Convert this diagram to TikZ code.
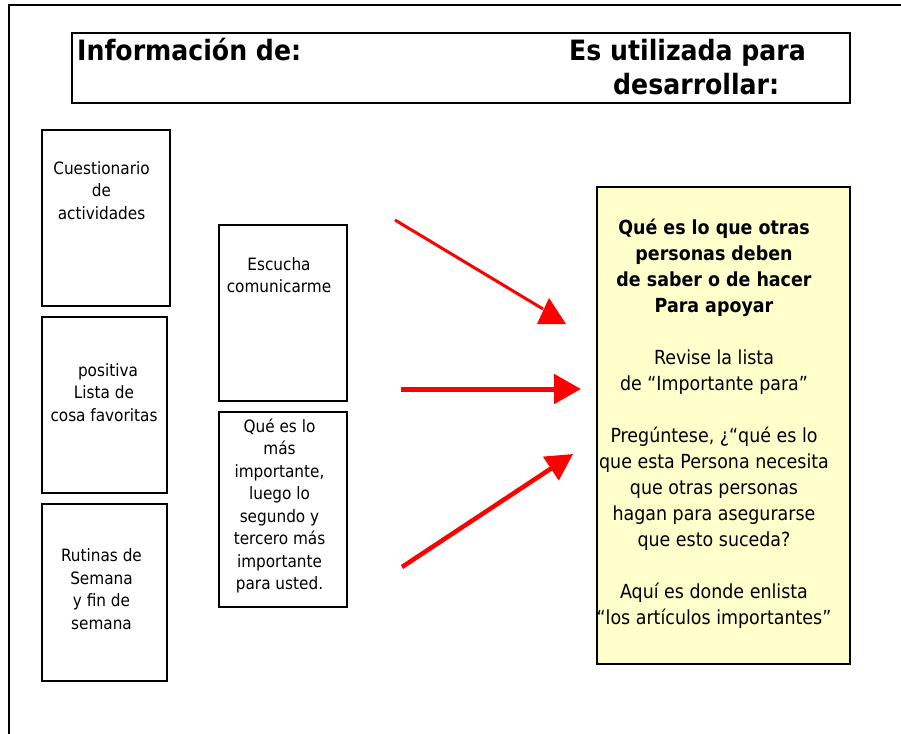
\documentclass[tikz,border=0pt]{standalone}
\usepackage{fontspec}
\setmainfont{DejaVu Sans Condensed}
\usetikzlibrary{arrows.meta}
\definecolor{paleyellow}{HTML}{FFFFCC}
\definecolor{arrowred}{HTML}{FF0000}
\tikzset{
  box/.style={draw, line width=2pt, rectangle, inner sep=0pt},
  txt/.style={align=center, inner sep=0pt, font=\fontsize{17}{22.5}\selectfont},
  ytxt/.style={align=center, inner sep=0pt, font=\fontsize{19.4}{26}\selectfont},
  titletxt/.style={inner sep=0pt, font=\fontsize{28}{34}\selectfont\bfseries},
  redarrow/.style={draw=arrowred, line cap=butt},
}
\begin{document}
\begin{tikzpicture}[x=1pt,y=-1pt]
\useasboundingbox (0,0) rectangle (901,733);
% outer frame
\draw[line width=2pt] (9,750) -- (9,5) -- (915,5);
% title box
\node[box, minimum width=778pt, minimum height=70pt] (title) at (461.3,68) {};
\node[titletxt, anchor=base west] (t1) at (77,61) {Información de:};
\node[titletxt, anchor=base west] (t2) at (569,61) {Es utilizada para};
\node[titletxt, anchor=base west] (t3) at (613,95) {desarrollar:};
% left column
\node[box, minimum width=128pt, minimum height=176pt] (b1) at (106,218) {};
\node[txt] (b1t) at (101.5,190.5) {Cuestionario\\de\\actividades};
\node[box, minimum width=125pt, minimum height=176pt] (b2) at (104.5,405) {};
\node[txt] (b2t) at (104,392.5) {\hspace{8pt}positiva\\Lista de\\cosa favoritas};
\node[box, minimum width=125pt, minimum height=177pt] (b3) at (104.5,592.5) {};
\node[txt] (b3t) at (101.5,589) {Rutinas de\\Semana\\y fin de\\semana};
% middle column
\node[box, minimum width=128pt, minimum height=176pt] (b4) at (283,313) {};
\node[txt] (b4t) at (279,275) {Escucha\\comunicarme};
\node[box, minimum width=128pt, minimum height=195pt] (b5) at (283,509.5) {};
\node[txt] (b5t) at (279.5,506) {Qué es lo\\más\\importante,\\luego lo\\segundo y\\tercero más\\importante\\para usted.};
% yellow box
\node[box, fill=paleyellow, minimum width=253pt, minimum height=477pt] (y) at (723.5,425.5) {};
\node[ytxt] (yt) at (714,424) {\textbf{Qué es lo que otras}\\\textbf{personas deben}\\\textbf{de saber o de hacer}\\\textbf{Para apoyar}\\[26pt]
Revise la lista\\de “Importante para”\\[26pt]
Pregúntese, ¿“qué es lo\\que esta Persona  necesita\\que otras personas\\hagan para asegurarse\\que esto suceda?\hspace{20pt}\\[26pt]
Aquí es donde enlista\\“los artículos importantes”};
% arrows
\coordinate (a1s) at (395,220);
\coordinate (a1e) at (543,309);
\draw[redarrow, line width=3pt] (a1s) -- (a1e);
\fill[arrowred] (537,324) -- (566,324) -- (549,298) -- cycle;
\coordinate (a2s) at (401,389);
\coordinate (a2e) at (581,389);
\draw[redarrow, line width=5pt, -{Triangle[length=27pt,width=29pt]}, arrowred] (a2s) -- (a2e);
\coordinate (a3s) at (402,567);
\coordinate (a3e) at (573,454);
\draw[redarrow, line width=4.5pt, -{Triangle[length=26.5pt,width=27.5pt]}, arrowred] (a3s) -- (a3e);
\end{tikzpicture}
\end{document}
